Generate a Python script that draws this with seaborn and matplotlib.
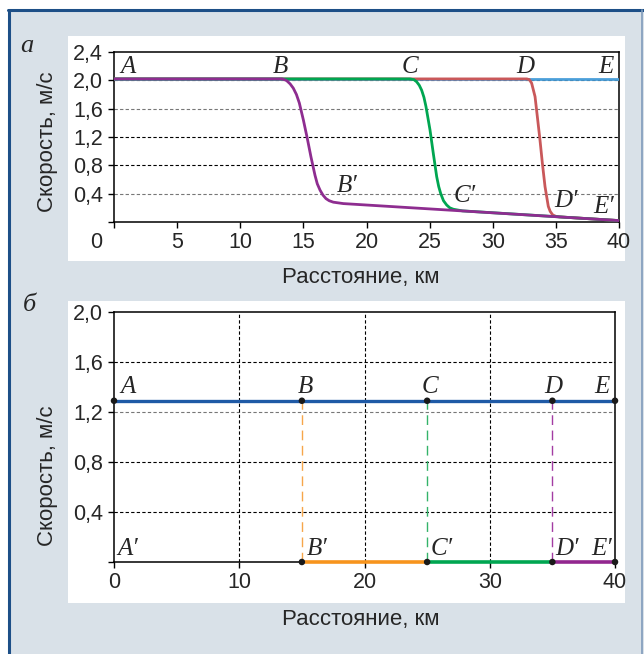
import matplotlib
matplotlib.use("Agg")
import matplotlib.pyplot as plt
import seaborn as sns
import pandas as pd
from matplotlib.patches import Rectangle
from matplotlib.lines import Line2D

# ---------------- data: panel a ----------------
blue_x = [0, 40]
blue_y = [2.02, 2.02]
red_x = [0, 32.7, 32.9, 33.08, 33.35, 33.53, 33.74, 33.93, 34.14, 34.4, 34.55, 34.75, 35.0, 35.3, 40]
red_y = [2.02, 2.02, 2.01, 1.96, 1.77, 1.49, 1.16, 0.83, 0.50, 0.22, 0.15, 0.10, 0.08, 0.072, 0.02]
green_x = [0, 23.45, 23.75, 23.97, 24.18, 24.37, 24.55, 24.71, 25.03, 25.29, 25.56, 25.72, 25.88,
           26.1, 26.35, 26.6, 26.88, 27.6, 40]
green_y = [2.02, 2.02, 2.01, 1.98, 1.93, 1.86, 1.76, 1.63, 1.30, 0.97, 0.64, 0.50, 0.40,
           0.30, 0.24, 0.20, 0.18, 0.157, 0.02]
purple_x = [0, 13.3, 13.5, 13.68, 13.95, 14.2, 14.45, 14.68, 15.0, 15.31, 15.6, 15.92, 16.1,
            16.32, 16.55, 16.79, 17.05, 17.37, 18.16, 40]
purple_y = [2.02, 2.02, 2.01, 1.995, 1.95, 1.89, 1.80, 1.68, 1.44, 1.18, 0.92, 0.66, 0.54,
            0.45, 0.38, 0.33, 0.30, 0.28, 0.26, 0.02]
a_yticks = [0, 0.4, 0.8, 1.2, 1.6, 2.0, 2.4]
a_yticklabels = ["", "0,4", "0,8", "1,2", "1,6", "2,0", "2,4"]
a_xticks = [0, 5, 10, 15, 20, 25, 30, 35, 40]
a_xticklabels = ["", "5", "10", "15", "20", "25", "30", "35", "40"]
a_labels = ["A", "B", "C", "D", "E", "B′", "C′", "D′", "E′"]
a_label_x = [1.1, 13.15, 23.4, 32.55, 38.97, 18.5, 27.8, 35.8, 38.8]
a_label_y = [2.10, 2.10, 2.10, 2.10, 2.10, 0.42, 0.28, 0.21, 0.127]

# ---------------- data: panel b ----------------
b_pts_x = [0, 15, 25, 35, 40]
b_top_y = [1.29, 1.29, 1.29, 1.29, 1.29]
b_bot_x = [15, 25, 35, 40]
b_bot_y = [0, 0, 0, 0]
b_seg_start = [15, 25, 35]
b_seg_end = [25, 35, 40]
b_yticks = [0, 0.4, 0.8, 1.2, 1.6, 2.0]
b_yticklabels = ["", "0,4", "0,8", "1,2", "1,6", "2,0"]
b_xticks = [0, 10, 20, 30, 40]
b_xticklabels = ["0", "10", "20", "30", "40"]
b_labels = ["A", "B", "C", "D", "E", "A′", "B′", "C′", "D′", "E′"]
b_label_x = [1.1, 15.3, 25.2, 35.06, 38.96, 1.1, 16.2, 26.2, 36.2, 38.96]
b_label_y = [1.35, 1.35, 1.35, 1.35, 1.35, 0.056, 0.056, 0.056, 0.056, 0.056]

# ---------------- style ----------------
sns.set_style("ticks")
plt.rcParams["font.family"] = ["Liberation Sans Narrow", "DejaVu Sans Condensed", "Liberation Sans"]
SANS = ["Liberation Sans Narrow", "DejaVu Sans Condensed", "Liberation Sans"]
SERIF = ["Liberation Serif", "DejaVu Serif"]

W, H = 644, 654
fig = plt.figure(figsize=(W / 100, H / 100), dpi=100)
fig.patch.set_facecolor("white")


def fx(x):
    return x / W


def fy(y):
    return 1 - y / H


# background and frame
fig.add_artist(Rectangle((fx(9), 0), fx(644) - fx(9), fy(10), transform=fig.transFigure,
                         facecolor="#d9e1e8", edgecolor="none", zorder=-10))
fig.add_artist(Line2D([fx(8), fx(644)], [fy(10), fy(10)], transform=fig.transFigure,
                      color="#1d4f87", lw=2.2, zorder=-5))
fig.add_artist(Line2D([fx(9), fx(9)], [fy(10), 0], transform=fig.transFigure,
                      color="#1d4f87", lw=2.2, zorder=-5))
fig.add_artist(Line2D([fx(641.5), fx(641.5)], [fy(10), 0], transform=fig.transFigure,
                      color="#7f9bbb", lw=1.2, zorder=-5))
for (x0, y0, x1, y1) in [(68, 36, 625, 261), (68, 301, 625, 603)]:
    fig.add_artist(Rectangle((fx(x0), fy(y1)), fx(x1) - fx(x0), fy(y0) - fy(y1),
                             transform=fig.transFigure, facecolor="white",
                             edgecolor="none", zorder=-8))

tick_kw = dict(direction="out", length=4, width=1.0, color="black", labelsize=15.5)

# ---------------- panel a ----------------
ax1 = fig.add_axes([fx(114), fy(222), fx(619) - fx(114), fy(52) - fy(222)])
ax1.set_facecolor("white")
df = pd.concat([
    pd.DataFrame({"x": blue_x, "y": blue_y, "c": "E"}),
    pd.DataFrame({"x": red_x, "y": red_y, "c": "D"}),
    pd.DataFrame({"x": green_x, "y": green_y, "c": "C"}),
    pd.DataFrame({"x": purple_x, "y": purple_y, "c": "B"}),
], ignore_index=True)
pal = {"E": "#4b9fd9", "D": "#c9585a", "C": "#00a651", "B": "#8e2d90"}
for y, col in zip([0.4, 0.8, 1.2, 1.6, 2.0], ["#777777", "black", "black", "#777777", "black"]):
    ax1.axhline(y, color=col, lw=0.8, ls=(0, (3, 2)), zorder=1)
sns.lineplot(data=df, x="x", y="y", hue="c", hue_order=["E", "D", "C", "B"], palette=pal,
             sort=False, estimator=None, lw=2.0, legend=False, ax=ax1, zorder=3)
ax1.set_xlim(0, 40)
ax1.set_ylim(0, 2.4)
ax1.set_xticks(a_xticks)
ax1.set_xticklabels(a_xticklabels)
ax1.set_yticks(a_yticks)
ax1.set_yticklabels(a_yticklabels)
ax1.tick_params(axis="both", **tick_kw)
ax1.tick_params(axis="y", pad=4)
ax1.tick_params(axis="x", pad=3)
for s in ax1.spines.values():
    s.set_color("black")
    s.set_linewidth(1.1)
ax1.set_xlabel("")
ax1.set_ylabel("")
ax1.annotate("0", xy=(0, 0), xycoords="data", xytext=(-13, -7), textcoords="offset points",
             ha="center", va="top", fontsize=15.5, family=SANS, annotation_clip=False)
for t, x, y in zip(a_labels, a_label_x, a_label_y):
    ax1.text(x, y, t, ha="center", va="baseline", fontsize=18, style="italic",
             family=SERIF, zorder=5)

# ---------------- panel b ----------------
ax2 = fig.add_axes([fx(114), fy(562), fx(615) - fx(114), fy(312) - fy(562)])
ax2.set_facecolor("white")
for y, col in zip([0.4, 0.8, 1.2, 1.6], ["black", "black", "#777777", "black"]):
    ax2.axhline(y, color=col, lw=0.8, ls=(0, (3, 2)), zorder=1)
for x in [10, 20, 30]:
    ax2.axvline(x, color="black", lw=0.8, ls=(0, (3, 2)), zorder=1)
vcols = ["#f6a64a", "#34b36a", "#a33ca3"]
for x, col in zip(b_bot_x[:3], vcols):
    ax2.plot([x, x], [0, b_top_y[0]], color=col, lw=1.0, ls=(0, (7, 4)), zorder=2)
dtop = pd.DataFrame({"x": b_pts_x, "y": b_top_y})
sns.lineplot(data=dtop, x="x", y="y", color="#1f5aa6", lw=2.4, ax=ax2, zorder=3)
segcols = ["#f7941d", "#00a651", "#92278f"]
for x0, x1, col in zip(b_seg_start, b_seg_end, segcols):
    dseg = pd.DataFrame({"x": [x0, x1], "y": [0, 0]})
    sns.lineplot(data=dseg, x="x", y="y", color=col, lw=2.6, ax=ax2, zorder=4, clip_on=False)
dpts = pd.DataFrame({"x": b_pts_x + b_bot_x, "y": b_top_y + b_bot_y})
sns.scatterplot(data=dpts, x="x", y="y", color="#1a1a1a", s=22, edgecolor="none",
                ax=ax2, zorder=6, clip_on=False)
ax2.set_xlim(0, 40)
ax2.set_ylim(0, 2.0)
ax2.set_xticks(b_xticks)
ax2.set_xticklabels(b_xticklabels)
ax2.set_yticks(b_yticks)
ax2.set_yticklabels(b_yticklabels)
ax2.tick_params(axis="both", **tick_kw)
ax2.tick_params(axis="y", pad=4)
ax2.tick_params(axis="x", pad=3)
for s in ax2.spines.values():
    s.set_color("black")
    s.set_linewidth(1.1)
ax2.set_xlabel("")
ax2.set_ylabel("")
for t, x, y in zip(b_labels, b_label_x, b_label_y):
    ax2.text(x, y, t, ha="center", va="baseline", fontsize=18, style="italic",
             family=SERIF, zorder=7)

for lab in ax1.get_xticklabels() + ax1.get_yticklabels() + ax2.get_xticklabels() + ax2.get_yticklabels():
    lab.set_family(SANS)

# axis titles
for yc in [142, 476]:
    fig.text(fx(48), fy(yc), "Скорость, м/с", rotation=90, ha="center", va="center",
             fontsize=16, family=SANS)
for yc in [277, 619]:
    fig.text(fx(361), fy(yc), "Расстояние, км", ha="center", va="center",
             fontsize=16, family=SANS)
# panel letters
fig.text(fx(27), fy(46), "а", ha="center", va="center", fontsize=19, style="italic", family=SERIF)
fig.text(fx(29), fy(305), "б", ha="center", va="center", fontsize=19, style="italic", family=SERIF)

fig.savefig("out.png", dpi=100, facecolor=fig.get_facecolor())
